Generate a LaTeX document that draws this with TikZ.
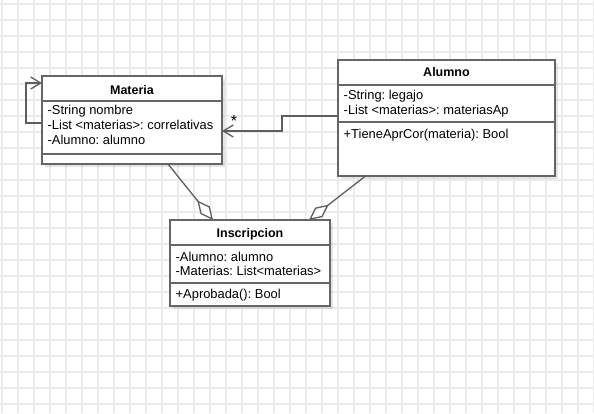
\documentclass[tikz,border=0pt]{standalone}
\usepackage{fontspec}
\setmainfont{Liberation Sans}
\usetikzlibrary{arrows.meta,calc,shadows}
\definecolor{gridc}{HTML}{EBEBEB}
\definecolor{bordc}{HTML}{666666}
\definecolor{linec}{HTML}{5E5E5E}
\frenchspacing
\tikzset{
  umlbox/.style={draw=bordc, line width=1.6pt, fill=white, rectangle, inner sep=0pt, outer sep=0pt,
    drop shadow={shadow xshift=3pt, shadow yshift=-3pt, fill=black, opacity=0.10}},
  sepline/.style={draw=bordc, line width=1.6pt},
  conn/.style={draw=linec, line width=1.3pt},
  assocarrow/.style={conn, -{Straight Barb[length=10pt,width=12pt]}},
  aggr/.style={conn, -{Diamond[open, length=25pt, width=12pt, fill=white]}},
  attr/.style={anchor=base west, inner sep=0pt, font=\fontsize{12.9}{15}\selectfont},
  ttl/.style={anchor=base, inner sep=0pt, font=\bfseries\fontsize{12.5}{15}\selectfont},
  lbl/.style={inner sep=0pt, font=\fontsize{16}{18}\selectfont},
}
\begin{document}
\begin{tikzpicture}[x=1pt, y=-1pt]
\useasboundingbox (0,0) rectangle (594,413);
\fill[white] (0,0) rectangle (594,413);
\foreach \x in {2,18,...,594} \draw[gridc, line width=1.2pt] (\x,0) -- (\x,413);
\foreach \y in {4,20,...,413} \draw[gridc, line width=1.2pt] (0,\y) -- (594,\y);

% Materia
\node[umlbox, minimum width=180pt, minimum height=88pt] (materia) at (132,120) {};
\draw[sepline] ($(materia.north west)+(0,25)$) -- ($(materia.north east)+(0,25)$);
\draw[sepline] ($(materia.north west)+(0,78)$) -- ($(materia.north east)+(0,78)$);
\node[ttl] (mt) at ($(materia.north)+(0,18)$) {Materia};
\node[attr] (m1) at ($(materia.north west)+(5.5,38.3)$) {-String nombre};
\node[attr] (m2) at ($(materia.north west)+(5.5,53.3)$) {-List <materias>: correlativas};
\node[attr] (m3) at ($(materia.north west)+(5.5,68)$) {-Alumno: alumno};

% Alumno
\node[umlbox, minimum width=217pt, minimum height=116pt] (alumno) at (446.5,118) {};
\draw[sepline] ($(alumno.north west)+(0,24.7)$) -- ($(alumno.north east)+(0,24.7)$);
\draw[sepline] ($(alumno.north west)+(0,62)$) -- ($(alumno.north east)+(0,62)$);
\node[ttl] (at) at ($(alumno.north)+(0,16.7)$) {Alumno};
\node[attr] (a1) at ($(alumno.north west)+(5.5,39.7)$) {-String: legajo};
\node[attr] (a2) at ($(alumno.north west)+(5.5,54)$) {-List <materias>: materiasAp};
\node[attr] (a3) at ($(alumno.north west)+(5.5,78.2)$) {+TieneAprCor(materia): Bool};

% Inscripcion
\node[umlbox, minimum width=160pt, minimum height=86pt] (inscripcion) at (250,263) {};
\draw[sepline] ($(inscripcion.north west)+(0,25)$) -- ($(inscripcion.north east)+(0,25)$);
\draw[sepline] ($(inscripcion.north west)+(0,63)$) -- ($(inscripcion.north east)+(0,63)$);
\node[ttl] (it) at ($(inscripcion.north)+(0,17)$) {Inscripcion};
\node[attr] (i1) at ($(inscripcion.north west)+(5.5,41.3)$) {-Alumno: alumno};
\node[attr] (i2) at ($(inscripcion.north west)+(5.5,55.3)$) {-Materias: List<materias>};
\node[attr] (i3) at ($(inscripcion.north west)+(5.5,78.5)$) {+Aprobada(): Bool};

% connectors
\draw[assocarrow] ($(materia.west)+(0,3)$) -- ++(-16,0) |- ($(materia.north west)+(0,7)$);
\draw[assocarrow] ($(alumno.west)+(0,-2)$) -- ++(-56,0) |- ($(materia.east)+(0,11)$);
\node[lbl] (star) at ($(materia.east)+(12,1)$) {*};
\draw[aggr] ($(materia.south)+(36,0)$) -- ($(inscripcion.north)+(-37,0)$);
\draw[aggr] ($(alumno.south)+(-81,0)$) -- ($(inscripcion.north)+(59,0)$);
\end{tikzpicture}
\end{document}
